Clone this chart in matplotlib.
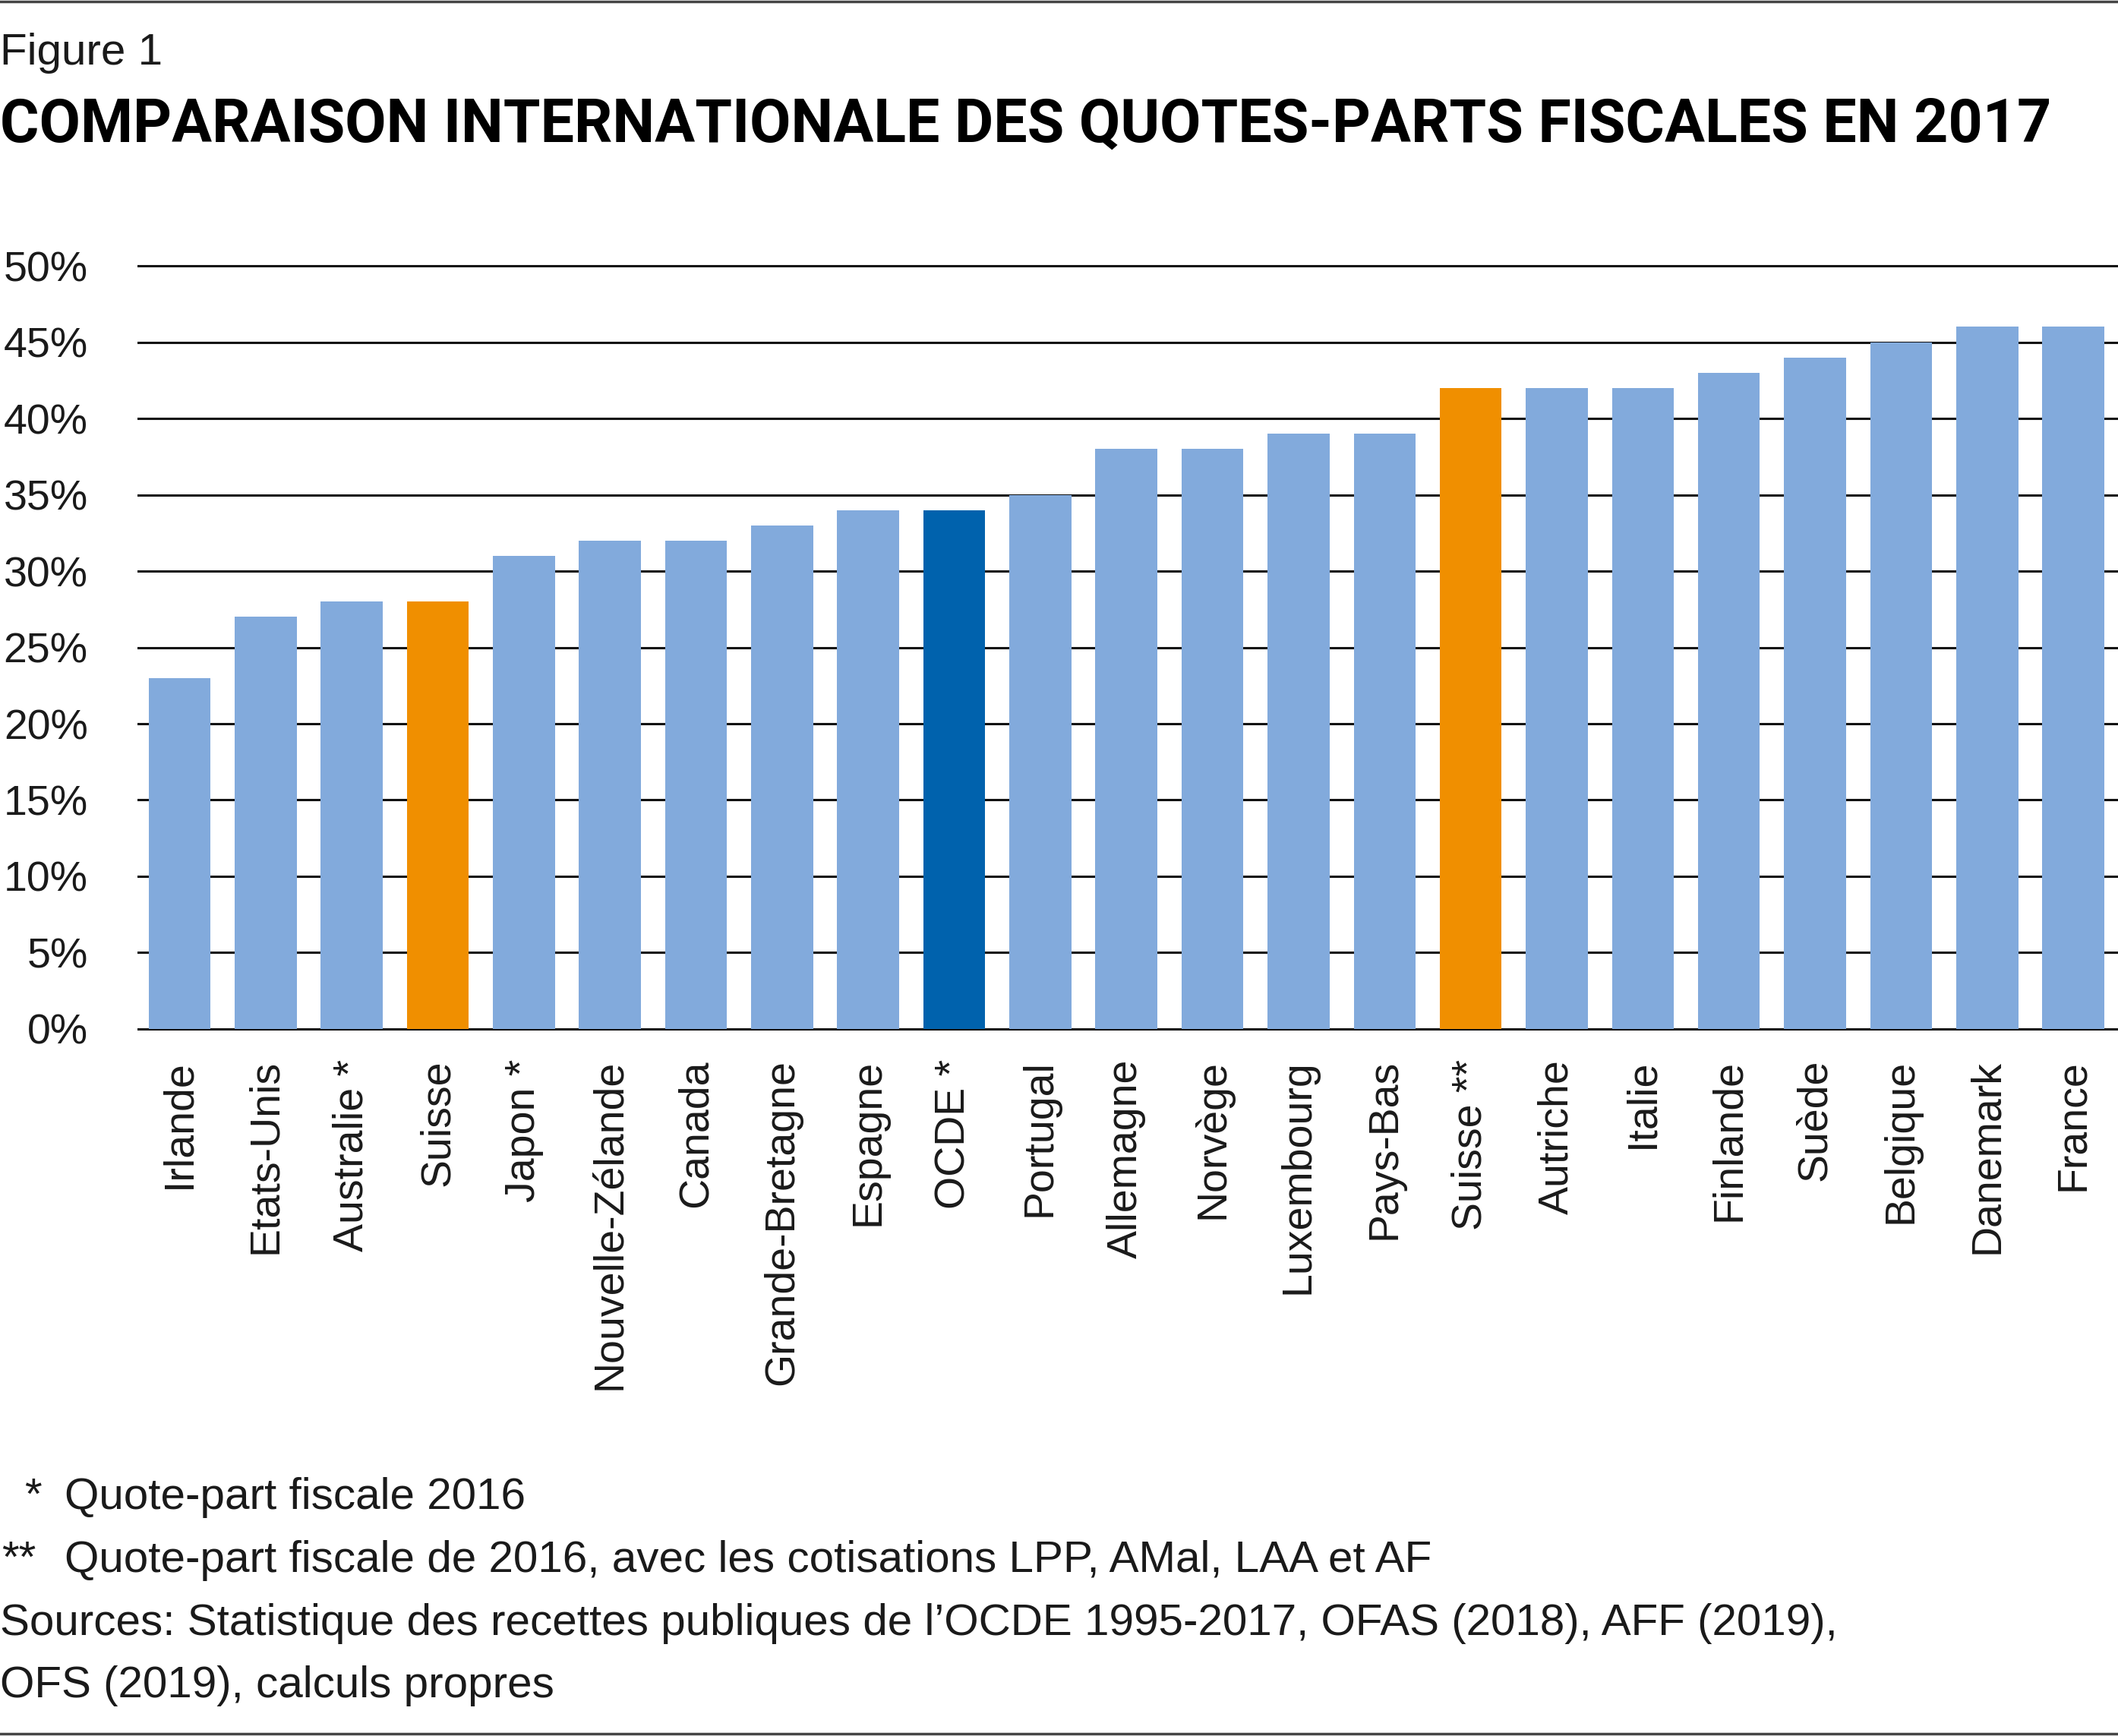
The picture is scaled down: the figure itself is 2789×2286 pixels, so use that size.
import matplotlib
matplotlib.use("Agg")
import matplotlib.pyplot as plt
from matplotlib.lines import Line2D

# --- data ---
countries = ["Irlande", "Etats-Unis", "Australie *", "Suisse", "Japon *",
             "Nouvelle-Zélande", "Canada", "Grande-Bretagne", "Espagne", "OCDE *",
             "Portugal", "Allemagne", "Norvège", "Luxembourg", "Pays-Bas",
             "Suisse **", "Autriche", "Italie", "Finlande", "Suède",
             "Belgique", "Danemark", "France"]
values = [23, 27, 28, 28, 31, 32, 32, 33, 34, 34, 35, 38, 38, 39, 39,
          42, 42, 42, 43, 44, 45, 46, 46]
highlight_orange = ["Suisse", "Suisse **"]
highlight_dark = ["OCDE *"]
y_ticks = [0, 5, 10, 15, 20, 25, 30, 35, 40, 45, 50]

notes = ["Quote-part fiscale 2016",
         "Quote-part fiscale de 2016, avec les cotisations LPP, AMal, LAA et AF",
         "Sources: Statistique des recettes publiques de l\u2019OCDE 1995-2017, OFAS (2018), AFF (2019),",
         "OFS (2019), calculs propres"]

LIGHT = "#82AADC"
ORANGE = "#F08F00"
DARK = "#0062AD"
TXT = "#1a1a1a"

W, H = 2789, 2286
DPI = 100
plt.rcParams['font.family'] = ['Liberation Sans', 'DejaVu Sans']

fig = plt.figure(figsize=(W / DPI, H / DPI), dpi=DPI)

def fy(px):
    return 1 - px / H

def fx(px):
    return px / W

# axes box in pixel coords
ax_left, ax_right = 181, 2789
ax_top, ax_bot = 344, 1359
ax = fig.add_axes([fx(ax_left), fy(ax_bot), fx(ax_right - ax_left), (ax_bot - ax_top) / H])

colors = []
for c in countries:
    if c in highlight_orange:
        colors.append(ORANGE)
    elif c in highlight_dark:
        colors.append(DARK)
    else:
        colors.append(LIGHT)

x = range(len(countries))
ax.bar(x, values, width=0.72, color=colors, zorder=3)

ax.set_xlim(-0.49, len(countries) - 1 + 0.52)
ax.set_ylim(-0.2, 50.3)
ax.set_yticks(y_ticks)
ax.set_yticklabels([f"{t}%" for t in y_ticks])
ax.yaxis.grid(True, color="#111111", linewidth=2.2, zorder=0)
ax.set_axisbelow(True)
for s in ax.spines.values():
    s.set_visible(False)

ax.set_xticks(list(x))
ax.set_xticklabels(countries, rotation=90, va="top", ha="center")
ax.tick_params(axis="x", length=0, pad=26, labelsize=40, labelcolor=TXT)
ax.tick_params(axis="y", length=0, pad=47, labelsize=40, labelcolor=TXT)
for lab in ax.get_yticklabels():
    lab.set_ha("right")

# --- titles ---
fig.text(0, fy(85), "Figure 1", fontsize=42, color=TXT, va="baseline", ha="left")
fig.text(0, fy(187), "COMPARAISON INTERNATIONALE DES QUOTES-PARTS FISCALES EN 2017",
         fontsize=56.8, fontweight="bold", family=["Roboto", "DejaVu Sans"],
         color="#000000", va="baseline", ha="left")

# --- footnotes ---
note_base = [1987, 2070, 2153, 2235]
fs = 42
fig.text(fx(32), fy(note_base[0]), "*", fontsize=fs, color=TXT, va="baseline", ha="left")
fig.text(fx(2), fy(note_base[1]), "**", fontsize=fs, color=TXT, va="baseline", ha="left")
fig.text(fx(85), fy(note_base[0]), notes[0], fontsize=fs, color=TXT, va="baseline")
fig.text(fx(85), fy(note_base[1]), notes[1], fontsize=fs, color=TXT, va="baseline")
fig.text(0, fy(note_base[2]), notes[2], fontsize=fs, color=TXT, va="baseline")
fig.text(0, fy(note_base[3]), notes[3], fontsize=fs, color=TXT, va="baseline")

# border lines top and bottom
fig.add_artist(Line2D([0, 1], [fy(2), fy(2)], color="#444444", linewidth=2.5))
fig.add_artist(Line2D([0, 1], [fy(2283), fy(2283)], color="#444444", linewidth=2.5))

fig.savefig("out.png", dpi=DPI)
